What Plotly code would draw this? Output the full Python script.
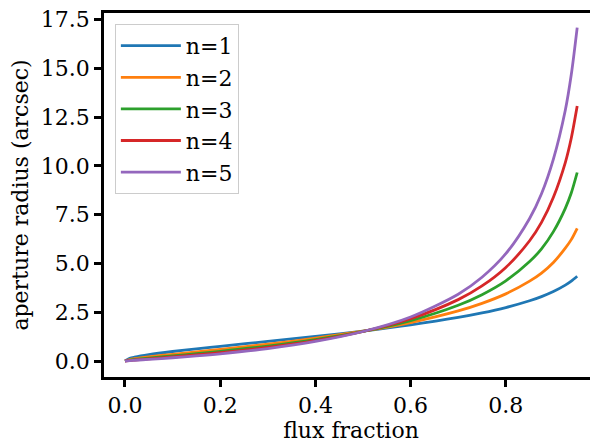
import plotly.graph_objects as go

flux_fraction = [0.0, 0.01, 0.02, 0.05, 0.10, 0.15, 0.20, 0.30, 0.40, 0.50,
                 0.60, 0.70, 0.75, 0.80, 0.85, 0.875, 0.90, 0.925, 0.9375, 0.95]

radius_n1 = [0.0, 0.136, 0.197, 0.325, 0.487, 0.625, 0.754, 1.004, 1.259, 1.535,
             1.850, 2.231, 2.463, 2.739, 3.085, 3.300, 3.558, 3.885, 4.091, 4.340]
radius_n2 = [0.0, 0.077, 0.117, 0.211, 0.344, 0.470, 0.597, 0.864, 1.166, 1.525,
             1.972, 2.565, 2.953, 3.440, 4.090, 4.503, 5.048, 5.782, 6.218, 6.799]
radius_n3 = [0.0, 0.047, 0.076, 0.148, 0.260, 0.374, 0.494, 0.766, 1.097, 1.515,
             2.070, 2.857, 3.399, 4.107, 5.095, 5.747, 6.630, 7.823, 8.606, 9.658]
radius_n4 = [0.0, 0.031, 0.052, 0.110, 0.205, 0.309, 0.423, 0.694, 1.045, 1.512,
             2.166, 3.144, 3.845, 4.793, 6.160, 7.102, 8.392, 10.169, 11.413, 13.062]
radius_n5 = [0.0, 0.022, 0.038, 0.084, 0.167, 0.260, 0.368, 0.636, 1.001, 1.511,
             2.255, 3.423, 4.292, 5.497, 7.303, 8.571, 10.344, 12.848, 14.663, 17.084]

series_names = ["n=1", "n=2", "n=3", "n=4", "n=5"]
series_values = [radius_n1, radius_n2, radius_n3, radius_n4, radius_n5]
colors = ["#1f77b4", "#ff7f0e", "#2ca02c", "#d62728", "#9467bd"]

x_ticks = [0.0, 0.2, 0.4, 0.6, 0.8]
y_ticks = [0.0, 2.5, 5.0, 7.5, 10.0, 12.5, 15.0, 17.5]

FONT = "DejaVu Serif, Liberation Serif, serif"
FS = 22

fig = go.Figure()
for name, vals, col in zip(series_names, series_values, colors):
    fig.add_trace(go.Scatter(
        x=flux_fraction, y=vals, mode="lines", name=name, legendgroup=name,
        line=dict(color=col, width=2.8, shape="spline", smoothing=0.8),
    ))

# the page adds an 8px body margin, so the figure is sized to fill the rest
fig.update_layout(
    width=590, height=437,
    margin=dict(l=96, r=0, t=5, b=68),
    paper_bgcolor="white", plot_bgcolor="white",
    font=dict(family=FONT, size=FS, color="#000000"),
    showlegend=True,
    legend=dict(
        x=0.022, y=0.970, xanchor="left", yanchor="top",
        bgcolor="rgba(255,255,255,0.8)", bordercolor="#cccccc", borderwidth=1,
        font=dict(family=FONT, size=FS, color="#000000"),
        tracegroupgap=0, itemwidth=60,
    ),
)

fig.update_xaxes(
    range=[-0.0441, 0.9937], tickvals=x_ticks, tickformat=".1f",
    showgrid=False, zeroline=False, automargin=False,
    showline=True, linecolor="black", linewidth=2.5, mirror=True,
    ticks="outside", ticklen=7, tickwidth=2.5, tickcolor="black",
    tickfont=dict(family=FONT, size=FS), ticklabeloverflow="allow",
    title=dict(text="flux fraction", font=dict(family=FONT, size=FS), standoff=6),
)
fig.update_yaxes(
    range=[-0.82, 17.83], tickvals=y_ticks, tickformat=".1f",
    showgrid=False, zeroline=False, automargin=False,
    showline=True, linecolor="black", linewidth=2.5,
    ticks="outside", ticklen=7, tickwidth=2.5, tickcolor="black",
    tickfont=dict(family=FONT, size=FS), ticklabeloverflow="allow",
    title=dict(text="aperture radius (arcsec)", font=dict(family=FONT, size=FS), standoff=10),
)

fig.write_html("out.html")
